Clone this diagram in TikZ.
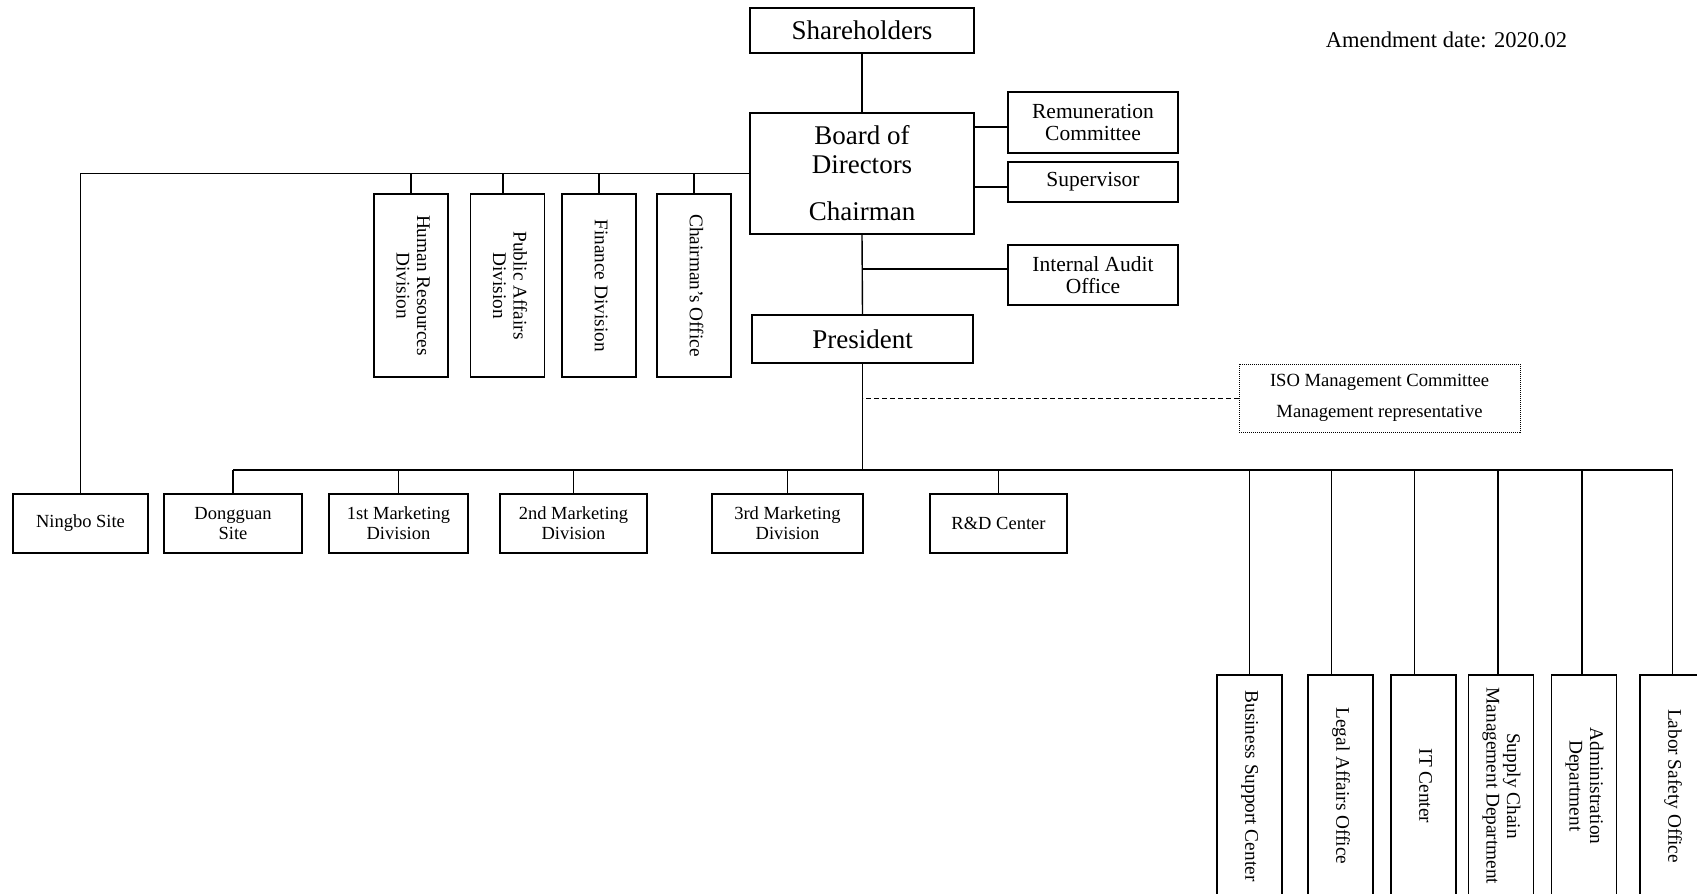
\documentclass[tikz,border=0pt]{standalone}
\usepackage{fontspec}
\setmainfont{Liberation Serif}
\newcommand\ocBig{\fontsize{27}{29}\selectfont}
\newcommand\ocMid{\fontsize{21.5}{22.5}\selectfont}
\newcommand\ocDate{\fontsize{22.5}{24}\selectfont}
\newcommand\ocIso{\fontsize{18.6}{20}\selectfont}
\newcommand\ocRow{\fontsize{18.5}{20}\selectfont}
\newcommand\ocVert{\fontsize{19.3}{20.5}\selectfont}
\newcommand\ocRot[1]{\rotatebox{-90}{\ocVert\begin{tabular}{@{}c@{}}#1\end{tabular}}}
\tikzset{
  box/.style={draw, line width=1.4pt, inner sep=0pt, align=center},
  conn/.style={line width=1.4pt},
  vdiv/.style={box, minimum width=74pt, minimum height=183pt},
  rowbox/.style={box, minimum height=59pt, font=\ocRow},
  rvbox/.style={box, minimum width=65pt, minimum height=222pt},
  sidebox/.style={box, minimum width=170pt, font=\ocMid},
}
\begin{document}
\begin{tikzpicture}[x=1pt,y=-1pt]
\useasboundingbox (0,0) rectangle (1697,894);
\clip (0,0) rectangle (1697,894);

% top
\node[box, minimum width=224pt, minimum height=45pt, font=\ocBig] (sh) at (862,30.5) {Shareholders};
\node[box, minimum width=224pt, minimum height=121pt, font=\ocBig] (board) at (862,173.5) {Board of\\Directors\\[18pt]Chairman};
\node[box, minimum width=221pt, minimum height=48pt, font=\ocBig] (pres) at (862.5,339) {President};

\node[sidebox, minimum height=61pt] (rem) at (1093,122.5) {Remuneration\\Committee};
\node[sidebox, minimum height=40pt] (sup) at (1093,182) {Supervisor};
\node[sidebox, minimum height=60pt] (audit) at (1093,275) {Internal Audit\\Office};

\node[font=\ocDate] (amend) at (1446.5,40) {Amendment date: 2020.02};

% staff divisions
\node[vdiv] (hr) at (411,285.5) {\ocRot{Human Resources\\Division}};
\node[vdiv] (pa) at (507.5,285.5) {\ocRot{Public Affairs\\Division}};
\node[vdiv] (fin) at (599,285.5) {\ocRot{Finance Division}};
\node[vdiv] (co) at (694,285.5) {\ocRot{Chairman's Office}};

% ISO
\node[draw, densely dotted, line width=1pt, inner sep=0pt, align=center, minimum width=281pt, minimum height=68pt, font=\ocIso] (iso) at (1379.5,398) {ISO Management Committee\\[11pt]Management representative};

% bottom row
\node[rowbox, minimum width=135pt] (ningbo) at (80.5,523.5) {Ningbo Site};
\node[rowbox, minimum width=138pt] (dong) at (233,523.5) {Dongguan\\Site};
\node[rowbox, minimum width=139pt] (mk1) at (398.5,523.5) {1st Marketing\\Division};
\node[rowbox, minimum width=147pt] (mk2) at (573.5,523.5) {2nd Marketing\\Division};
\node[rowbox, minimum width=151pt] (mk3) at (787.5,523.5) {3rd Marketing\\Division};
\node[rowbox, minimum width=137pt] (rd) at (998.5,523.5) {R\&D Center};

% right vertical boxes
\node[rvbox] (bsc) at (1249.5,786) {\ocRot{Business Support Center}};
\node[rvbox] (legal) at (1340.5,786) {\ocRot{Legal Affairs Office}};
\node[rvbox] (itc) at (1423.5,786) {\ocRot{IT Center}};
\node[rvbox] (scm) at (1501,786) {\ocRot{Supply Chain\\Management Department}};
\node[rvbox] (adm) at (1584,786) {\ocRot{Administration\\Department}};
\node[rvbox] (labor) at (1672.5,786) {\ocRot{Labor Safety Office}};

% coordinates
\coordinate (bus) at (0,470);
\coordinate (rc) at ([yshift=-4.5pt]rem.west);
\coordinate (sc) at ([yshift=-5pt]sup.west);
\coordinate (ac) at ([yshift=6pt]audit.west);
\coordinate (pac) at ([xshift=-4.5pt]pa.north);
\coordinate (legc) at ([xshift=-9pt]legal.north);
\coordinate (itcc) at ([xshift=-9pt]itc.north);
\coordinate (scmc) at ([xshift=-3pt]scm.north);
\coordinate (admc) at ([xshift=-2pt]adm.north);

% connectors
\draw[conn] (sh.south) -- (board.north);
\draw[conn] (board.south) -- (pres.north);
\draw[conn] (rc) -- (rc -| board.east);
\draw[conn] (sc) -- (sc -| board.east);
\draw[conn] (ac) -- (ac -| pres.north);
\draw[conn] (board.west) -| (ningbo.north);
\draw[conn] (hr.north) -- (hr.north |- board.west);
\draw[conn] (pac) -- (pac |- board.west);
\draw[conn] (fin.north) -- (fin.north |- board.west);
\draw[conn] (co.north) -- (co.north |- board.west);
\draw[dashed, dash pattern=on 5pt off 3pt, line width=1pt] (iso.west) -- (iso.west -| pres.south);
\draw[conn] (pres.south) -- (pres.south |- bus);
\draw[conn] (dong.north |- bus) -- (labor.north |- bus);
\draw[conn] (dong.north) -- (dong.north |- bus);
\draw[conn] (mk1.north) -- (mk1.north |- bus);
\draw[conn] (mk2.north) -- (mk2.north |- bus);
\draw[conn] (mk3.north) -- (mk3.north |- bus);
\draw[conn] (rd.north) -- (rd.north |- bus);
\draw[conn] (bsc.north) -- (bsc.north |- bus);
\draw[conn] (legc) -- (legc |- bus);
\draw[conn] (itcc) -- (itcc |- bus);
\draw[conn] (scmc) -- (scmc |- bus);
\draw[conn] (admc) -- (admc |- bus);
\draw[conn] (labor.north) -- (labor.north |- bus);
\end{tikzpicture}
\end{document}
